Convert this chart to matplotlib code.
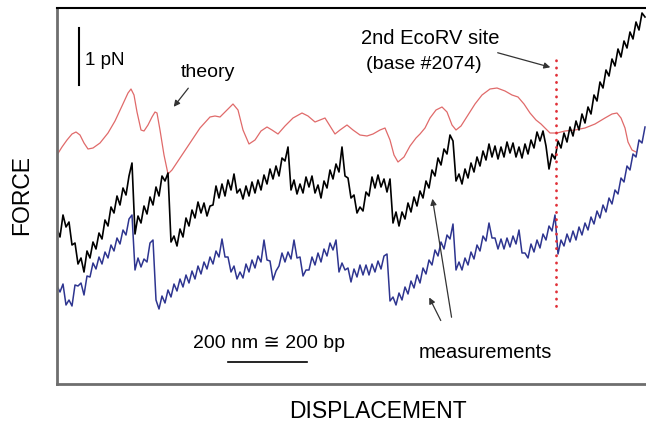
import matplotlib
matplotlib.use("Agg")
import matplotlib.pyplot as plt
import numpy as np

plt.rcParams['font.family'] = ['Liberation Sans', 'DejaVu Sans']

# displacement is sampled every 3 units, force in arbitrary units
step = 3

black_force = [
    156, 148, 170, 158, 163, 140, 142, 121, 127, 113,
    134, 127, 143, 136, 152, 146, 165, 159, 178, 172,
    189, 180, 197, 190, 209, 222, 151, 169, 162, 179,
    171, 188, 180, 198, 189, 209, 204, 212, 143, 149,
    139, 156, 148, 167, 159, 175, 167, 183, 172, 182,
    169, 179, 180, 199, 187, 201, 189, 205, 195, 211,
    192, 196, 186, 199, 189, 203, 192, 205, 195, 210,
    201, 216, 206, 219, 209, 227, 224, 238, 195, 205,
    191, 201, 192, 208, 198, 209, 192, 200, 187, 204,
    197, 215, 206, 221, 213, 238, 209, 207, 187, 190,
    172, 178, 174, 193, 189, 208, 197, 210, 198, 206,
    193, 206, 162, 173, 159, 173, 166, 182, 173, 188,
    179, 194, 187, 204, 197, 215, 209, 227, 220, 236,
    231, 250, 244, 204, 211, 201, 216, 207, 222, 213,
    228, 219, 234, 225, 241, 228, 239, 226, 238, 228,
    243, 232, 242, 228, 238, 227, 241, 231, 245, 237,
    253, 244, 254, 239, 216, 231, 226, 244, 237, 252,
    243, 258, 249, 264, 255, 271, 262, 278, 271, 290,
    284, 303, 297, 315, 309, 326, 319, 336, 328, 344,
    337, 353, 346, 363, 355, 372, 368,
]

blue_force = [
    99, 93, 101, 80, 85, 79, 100, 99, 102, 90,
    109, 108, 122, 116, 128, 121, 133, 127, 140, 134,
    147, 141, 155, 150, 166, 170, 115, 127, 118, 126,
    123, 142, 145, 85, 76, 89, 82, 95, 88, 101,
    94, 106, 98, 110, 102, 114, 106, 119, 111, 123,
    116, 128, 121, 134, 128, 146, 128, 128, 113, 119,
    106, 113, 107, 121, 113, 125, 117, 129, 123, 145,
    125, 124, 105, 114, 119, 132, 123, 133, 126, 145,
    127, 128, 109, 115, 115, 128, 120, 132, 123, 136,
    129, 142, 135, 145, 113, 122, 115, 117, 103, 116,
    108, 120, 110, 120, 110, 121, 113, 124, 116, 129,
    131, 84, 88, 80, 92, 85, 98, 91, 104, 97,
    110, 102, 117, 111, 125, 120, 135, 129, 143, 136,
    150, 146, 161, 115, 123, 115, 127, 120, 133, 126,
    140, 134, 149, 144, 162, 147, 147, 136, 146, 136,
    147, 138, 149, 141, 155, 132, 132, 127, 141, 133,
    145, 137, 151, 145, 159, 154, 170, 131, 145, 139,
    151, 143, 154, 145, 158, 150, 162, 155, 168, 161,
    174, 167, 180, 173, 187, 181, 195, 191, 207, 203,
    219, 215, 231, 228, 245, 242, 258,
]

theory_disp = [
    0, 5, 10, 15, 19, 23, 27, 31, 36, 43,
    51, 58, 65, 71, 74, 77, 80, 84, 87, 91,
    95, 98, 100, 103, 107, 111, 115, 123, 133, 143,
    153, 158, 163, 169, 176, 181, 186, 192, 198, 204,
    210, 215, 221, 228, 236, 245, 251, 258, 263, 268,
    273, 278, 283, 290, 296, 303, 310, 316, 323, 328,
    333, 337, 341, 347, 353, 359, 363, 368, 373, 379,
    385, 390, 395, 399, 404, 411, 418, 425, 433, 440,
    448, 455, 461, 467, 473, 479, 484, 488, 493, 500,
    508, 518, 528, 538, 548, 555, 560, 564, 568, 571,
    575, 579,
]
theory_force = [
    230, 238, 245, 251, 253, 250, 242, 236, 237, 242,
    252, 264, 279, 292, 296, 290, 273, 255, 254, 260,
    268, 273, 272, 255, 230, 211, 215, 227, 242, 257,
    268, 269, 268, 274, 281, 275, 255, 241, 245, 254,
    258, 255, 251, 259, 267, 272, 269, 263, 265, 267,
    259, 251, 255, 260, 255, 250, 249, 251, 255, 257,
    245, 230, 223, 228, 239, 247, 251, 257, 267, 275,
    278, 273, 260, 255, 259, 270, 281, 290, 296, 297,
    294, 290, 288, 281, 272, 265, 261, 257, 252, 252,
    254, 255, 257, 261, 267, 271, 272, 267, 257, 243,
    235, 233,
]

site_disp = 499
site_force = (79, 327)

black_disp = np.arange(len(black_force)) * step
blue_disp = np.arange(len(blue_force)) * step

fig = plt.figure(figsize=(6.46, 4.32), dpi=100)
ax = fig.add_axes([57 / 646, 48 / 432, 593 / 646, 376 / 432])

ax.plot(theory_disp, theory_force, color='#e06a6a', lw=0.9)
ax.plot(blue_disp, blue_force, color='#2e3590', lw=1.1)
ax.plot(black_disp, black_force, color='black', lw=1.2)
ax.plot([site_disp, site_disp], site_force, color='#e03038', lw=2,
        linestyle=(0, (0.1, 2.5)), dash_capstyle='round')

ax.set_xlim(0, 593)
ax.set_ylim(1, 377)
ax.set_xticks([])
ax.set_yticks([])
ax.spines['right'].set_visible(False)
ax.spines['top'].set_color('black')
ax.spines['top'].set_linewidth(1.5)
for s in ['left', 'bottom']:
    ax.spines[s].set_color('#6e6e6e')
    ax.spines[s].set_linewidth(2)

# scale bars
ax.plot([22, 22], [300, 357], color='black', lw=1.5)
ax.text(28, 325, '1 pN', fontsize=13.5, va='center', ha='left')
ax.plot([171, 250], [23, 23], color='black', lw=1.2)
ax.text(212, 42, '200 nm \u2245 200 bp', fontsize=14, ha='center', va='center')

# annotations
arrow = dict(arrowstyle='-|>', color='#333333', lw=0.9, mutation_scale=9)
ax.text(151, 313, 'theory', fontsize=14, ha='center', va='center')
ax.annotate('', xy=(115, 276), xytext=(133, 299), arrowprops=arrow)

ax.text(373, 347, '2nd EcoRV site', fontsize=14.5, ha='center', va='center')
ax.text(367, 321, '(base #2074)', fontsize=14, ha='center', va='center')
ax.annotate('', xy=(496, 317), xytext=(438, 333), arrowprops=arrow)

ax.text(428, 33, 'measurements', fontsize=14.5, ha='center', va='center')
ax.annotate('', xy=(371, 90), xytext=(385, 62), arrowprops=arrow)
ax.annotate('', xy=(375, 189), xytext=(395, 65), arrowprops=arrow)

fig.text(22 / 646, 1 - 195 / 432, 'FORCE', fontsize=16.5, rotation=90,
         ha='center', va='center')
fig.text(378 / 646, 1 - 412 / 432, 'DISPLACEMENT', fontsize=16.5,
         ha='center', va='center')

fig.savefig('out.png', dpi=100)
